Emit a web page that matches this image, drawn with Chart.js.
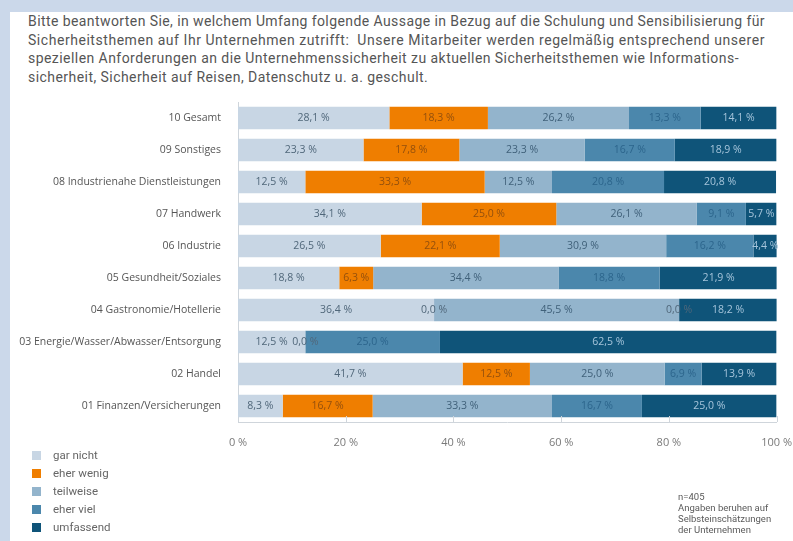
<!DOCTYPE html>
<html lang="de">
<head>
<meta charset="utf-8">
<script src="https://cdn.jsdelivr.net/npm/chart.js@4.4.1/dist/chart.umd.min.js"></script>
<style>
  html, body { margin: 0; padding: 0; }
  body { width: 793px; height: 541px; background: #cbd8ea; position: relative; overflow: hidden; font-family: Roboto, "Open Sans", sans-serif; }
  #card { position: absolute; left: 10px; top: 12px; right: 0; bottom: 0; background: #ffffff; }
  #title { position: absolute; left: 28px; top: 12px; font-size: 14px; line-height: 18.7px; color: #555; white-space: nowrap; }
  #title span { display: block; }
  #chartWrap { position: absolute; left: 0; top: 0; width: 798px; height: 541px; }
  #legend { position: absolute; left: 32px; top: 446px; font-size: 11.5px; color: #666; }
  #legend div { height: 18px; line-height: 18px; display: flex; align-items: center; }
  #legend span.sw { display: inline-block; width: 9px; height: 9px; margin-right: 12px; }
  #note { position: absolute; left: 678px; top: 491px; font-size: 9.5px; line-height: 11px; color: #5a5a5a; }
</style>
</head>
<body>
<div id="card"></div>
<div id="title"><span>Bitte beantworten Sie, in welchem Umfang folgende Aussage in Bezug auf die Schulung und Sensibilisierung für</span><span>Sicherheitsthemen auf Ihr Unternehmen zutrifft:&nbsp; Unsere Mitarbeiter werden regelmäßig entsprechend unserer</span><span>speziellen Anforderungen an die Unternehmenssicherheit zu aktuellen Sicherheitsthemen wie Informations-</span><span>sicherheit, Sicherheit auf Reisen, Datenschutz u. a. geschult.</span></div>
<div id="chartWrap"><canvas id="chart" width="798" height="541"></canvas></div>
<div id="legend"></div>
<div id="note">n=405<br>Angaben beruhen auf<br>Selbsteinschätzungen<br>der Unternehmen</div>
<script>
// Branches, listed top to bottom
const categories = [
  '10 Gesamt',
  '09 Sonstiges',
  '08 Industrienahe Dienstleistungen',
  '07 Handwerk',
  '06 Industrie',
  '05 Gesundheit/Soziales',
  '04 Gastronomie/Hotellerie',
  '03 Energie/Wasser/Abwasser/Entsorgung',
  '02 Handel',
  '01 Finanzen/Versicherungen'
];

// Answer shares in percent per branch
const garNicht   = [28.1, 23.3, 12.5, 34.1, 26.5, 18.8, 36.4, 12.5, 41.7,  8.3];
const eherWenig  = [18.3, 17.8, 33.3, 25.0, 22.1,  6.3,  0.0,  0.0, 12.5, 16.7];
const teilweise  = [26.2, 23.3, 12.5, 26.1, 30.9, 34.4, 45.5, null, 25.0, 33.3];
const eherViel   = [13.3, 16.7, 20.8,  9.1, 16.2, 18.8,  0.0, 25.0,  6.9, 16.7];
const umfassend  = [14.1, 18.9, 20.8,  5.7,  4.4, 21.9, 18.2, 62.5, 13.9, 25.0];

const seriesNames = ['gar nicht', 'eher wenig', 'teilweise', 'eher viel', 'umfassend'];
const xTicks = [0, 20, 40, 60, 80, 100];

const fills = ['#c8d6e4', '#ef7e00', '#93b4cc', '#4b87ac', '#0f5479'];
const labelInk = ['#50677a', '#94500c', '#40617a', '#2c658c', '#a6c5db'];
const zeroInk = '#50677a';
const FONT = '"Open Sans", sans-serif';

const seriesValues = [garNicht, eherWenig, teilweise, eherViel, umfassend];

const datasets = seriesValues.map((vals, i) => ({
  label: seriesNames[i],
  data: vals,
  backgroundColor: fills[i],
  borderWidth: 0,
  barPercentage: 0.7,
  categoryPercentage: 1.0
}));

// Writes each segment's value in its middle
const segmentLabels = {
  id: 'segmentLabels',
  afterDatasetsDraw(chart) {
    const ctx = chart.ctx;
    ctx.save();
    ctx.font = '10.5px ' + FONT;
    ctx.textAlign = 'center';
    ctx.textBaseline = 'middle';
    chart.data.datasets.forEach((ds, i) => {
      const meta = chart.getDatasetMeta(i);
      meta.data.forEach((bar, j) => {
        const v = ds.data[j];
        if (v === null || v === undefined) return;
        const p = bar.getProps(['x', 'y', 'base'], true);
        ctx.fillStyle = v === 0 ? zeroInk : labelInk[i];
        ctx.fillText(v.toFixed(1).replace('.', ',') + ' %', (p.x + p.base) / 2, p.y + 0.5);
      });
    });
    ctx.restore();
  }
};

// Short upward tick marks on the value axis baseline
const baseTicks = {
  id: 'baseTicks',
  afterDatasetsDraw(chart) {
    const xs = chart.scales.x;
    const ctx = chart.ctx;
    const bottom = chart.chartArea.bottom;
    ctx.save();
    ctx.strokeStyle = '#cfd5db';
    ctx.lineWidth = 1;
    xTicks.slice(1).forEach(t => {
      const px = Math.round(xs.getPixelForValue(t)) + 0.5;
      ctx.beginPath();
      ctx.moveTo(px, bottom);
      ctx.lineTo(px, bottom - 6);
      ctx.stroke();
    });
    ctx.restore();
  }
};

new Chart(document.getElementById('chart'), {
  type: 'bar',
  data: { labels: categories, datasets },
  plugins: [segmentLabels, baseTicks],
  options: {
    indexAxis: 'y',
    responsive: false,
    animation: false,
    layout: { padding: { left: 0, right: 0, top: 102, bottom: 89 } },
    plugins: { legend: { display: false }, tooltip: { enabled: false }, title: { display: false } },
    scales: {
      x: {
        stacked: true,
        min: 0,
        max: 100,
        afterBuildTicks(scale) { scale.ticks = xTicks.map(v => ({ value: v })); },
        afterFit(scale) { scale.height = 30; },
        grid: { display: false },
        border: { display: true, color: '#cfd5db', width: 1 },
        ticks: {
          color: '#7a7a7a',
          font: { family: FONT, size: 11 },
          padding: 6,
          callback: v => v + ' %'
        }
      },
      y: {
        stacked: true,
        afterFit(scale) { scale.width = 238; },
        grid: { display: false },
        border: { display: true, color: '#cfd5db', width: 1 },
        ticks: {
          color: '#555',
          font: { family: FONT, size: 10.5 },
          padding: 9
        }
      }
    }
  }
});

// Spread the heading's first three lines to the full text width
const titleLines = document.querySelectorAll('#title span');
const targetWidths = [737, 737, 711];
titleLines.forEach((el, k) => {
  if (k >= targetWidths.length) return;
  el.style.display = 'inline-block';
  const w = el.getBoundingClientRect().width;
  const n = el.textContent.length;
  el.style.letterSpacing = ((targetWidths[k] - w) / n).toFixed(3) + 'px';
  el.style.display = 'block';
});
const last = titleLines[3];
last.style.letterSpacing = titleLines[2].style.letterSpacing;

// Legend block
const legend = document.getElementById('legend');
seriesNames.forEach((name, i) => {
  const row = document.createElement('div');
  const sw = document.createElement('span');
  sw.className = 'sw';
  sw.style.background = fills[i];
  row.appendChild(sw);
  row.appendChild(document.createTextNode(name));
  legend.appendChild(row);
});
</script>
</body>
</html>
